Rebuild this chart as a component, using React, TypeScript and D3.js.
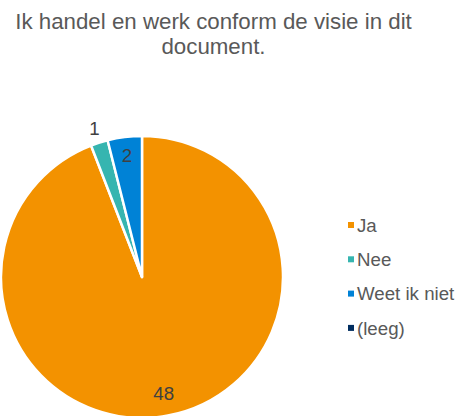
import * as d3 from "d3";
import React from "react";

const categories = ["Ja", "Nee", "Weet ik niet", "(leeg)"];
const counts = [48, 1, 2, 0];
const colors = ["#F39200", "#36B5B0", "#0082D6", "#002D5F"];
// relative radius for the data labels (Excel "best fit")
const labelRadius = [0.84, 1.11, 0.87, 1];
const titleLines = ["Ik handel en werk conform de visie in dit", "document."];

const W = 462;
const H = 416;
const cx = 142;
const cy = 277;
const R = 141;
const font = "'Liberation Sans', Arial, Helvetica, sans-serif";

export default function App() {
  const pie = d3
    .pie<number>()
    .sort(null)
    .startAngle(0)
    .endAngle(2 * Math.PI)
    .value((d) => d);
  const arcs = pie(counts);
  const arc = d3.arc<d3.PieArcDatum<number>>().innerRadius(0).outerRadius(R);

  return (
    <svg
      width={W}
      height={H}
      style={{ position: "absolute", left: 0, top: 0, fontFamily: font }}
    >
      <rect width={W} height={H} fill="#fff" />
      {titleLines.map((t, i) => (
        <text key={i} x={213.5} y={28.5 + i * 25} textAnchor="middle" fontSize={22.3} fill="#595959">
          {t}
        </text>
      ))}
      <g transform={`translate(${cx},${cy})`}>
        {arcs.map((a, i) =>
          a.value > 0 ? (
            <path key={i} d={arc(a) || ""} fill={colors[i]} stroke="#fff" strokeWidth={2.5} strokeLinejoin="round" />
          ) : null
        )}
        {arcs.map((a, i) => {
          if (a.value <= 0) return null;
          const mid = (a.startAngle + a.endAngle) / 2;
          const r = R * labelRadius[i];
          const x = Math.sin(mid) * r;
          const y = -Math.cos(mid) * r;
          return (
            <text key={i} x={x} y={y} dy="0.36em" textAnchor="middle" fontSize={18.7} fill="#404040">
              {a.value}
            </text>
          );
        })}
      </g>
      <g transform="translate(348,225)">
        {categories.map((c, i) => (
          <g key={c} transform={`translate(0,${i * 34.3})`}>
            <rect x={0} y={-3} width={6} height={6} fill={colors[i]} />
            <text x={9} y={0} dy="0.36em" fontSize={18.7} fill="#595959">
              {c}
            </text>
          </g>
        ))}
      </g>
    </svg>
  );
}
